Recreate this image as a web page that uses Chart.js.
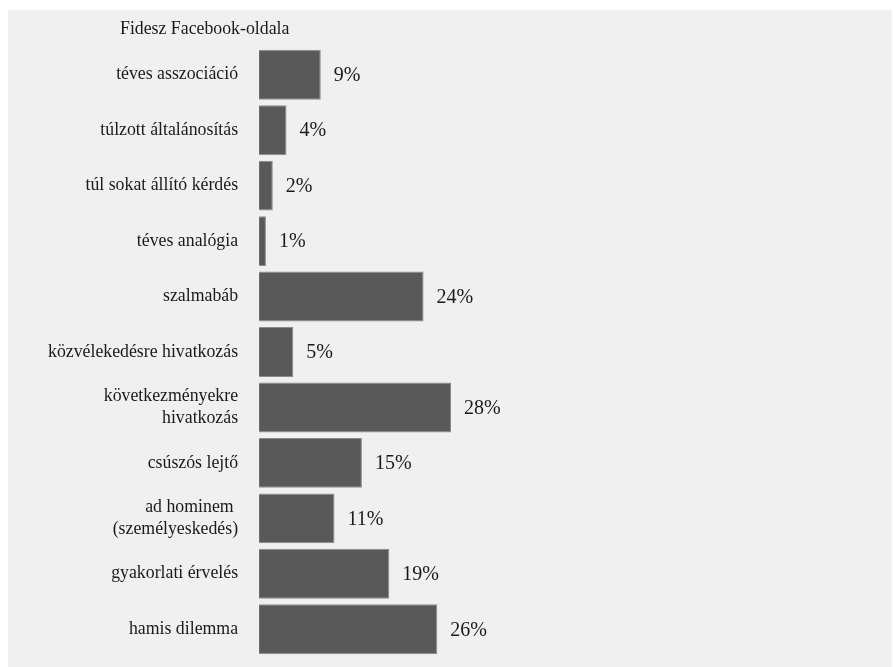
<!DOCTYPE html>
<html>
<head>
<meta charset="utf-8">
<script src="https://cdn.jsdelivr.net/npm/chart.js@4"></script>
<style>
  body { margin: 0; background: #fff; }
  #wrap { position: absolute; left: 8px; top: 10px; width: 884px; height: 657px; background: #f0f0f0; }
  canvas { display: block; }
</style>
</head>
<body>
<div id="wrap"><canvas id="chart" width="884" height="657"></canvas></div>
<script>
const titleText = 'Fidesz Facebook-oldala';
const categories = [
    'téves asszociáció',
    'túlzott általánosítás',
    'túl sokat állító kérdés',
    'téves analógia',
    'szalmabáb',
    'közvélekedésre hivatkozás',
    ['következményekre', 'hivatkozás'],
    'csúszós lejtő',
    ['ad hominem ', '(személyeskedés)'],
    'gyakorlati érvelés',
    'hamis dilemma'
];
const shares = [9, 4, 2, 1, 24, 5, 28, 15, 11, 19, 26];

const serif = "'Liberation Serif', 'Times New Roman', serif";
const fontSize = 17.8;

// value labels right of each bar + the title
const labelPlugin = {
    id: 'labels',
    afterDatasetsDraw(chart) {
        const ctx = chart.ctx;
        ctx.save();
        ctx.fillStyle = '#1a1a1a';
        ctx.textBaseline = 'middle';
        ctx.textAlign = 'left';
        ctx.font = '20px ' + serif;
        chart.getDatasetMeta(0).data.forEach((bar, i) => {
            ctx.fillText(shares[i] + '%', bar.x + 13, bar.y + 1);
        });
        ctx.font = fontSize + 'px ' + serif;
        ctx.fillText(titleText, 112, 19);
        ctx.restore();
    }
};

new Chart(document.getElementById('chart'), {
    type: 'bar',
    data: {
        labels: categories,
        datasets: [{
            data: shares,
            backgroundColor: '#595959',
            borderColor: '#8a8a8a',
            borderWidth: 1,
            categoryPercentage: 1,
            barPercentage: 0.9
        }]
    },
    options: {
        indexAxis: 'y',
        responsive: false,
        animation: false,
        layout: { padding: { left: 19, right: 16, top: 37, bottom: 10 } },
        plugins: { legend: { display: false }, tooltip: { enabled: false } },
        scales: {
            x: { display: false, min: 0, max: 90 },
            y: {
                grid: { display: false, drawTicks: false },
                border: { display: false },
                ticks: { color: '#1a1a1a', font: { family: serif, size: fontSize }, padding: 21 },
                // tick padding otherwise eats vertical room
                afterFit(scale) { scale.paddingTop = 0; scale.paddingBottom = 0; }
            }
        }
    },
    plugins: [labelPlugin]
});
</script>
</body>
</html>
